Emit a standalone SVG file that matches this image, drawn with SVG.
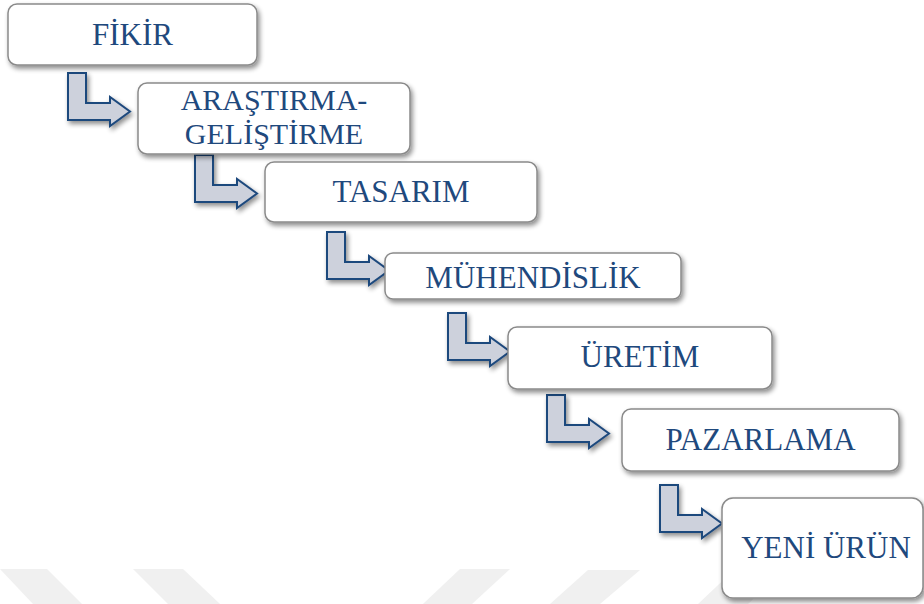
<svg xmlns="http://www.w3.org/2000/svg" width="924" height="604" viewBox="0 0 924 604">
<defs>
<filter id="sh" x="-10%" y="-20%" width="130%" height="150%">
<feGaussianBlur in="SourceAlpha" stdDeviation="2.5"/>
<feOffset dx="1.5" dy="3" result="b"/>
<feComponentTransfer><feFuncA type="linear" slope="0.45"/></feComponentTransfer>
<feMerge><feMergeNode/><feMergeNode in="SourceGraphic"/></feMerge>
</filter>
<path id="arr" d="M0,0 H18 V30 H42 V24 L62,38.5 L42,53 V47 H0 Z"/>
</defs>
<style>
.box{fill:#ffffff;stroke:#8a8a8a;stroke-width:1.5;filter:url(#sh)}
.arrow{fill:#cdd1dc;stroke:#1f497d;stroke-width:2;stroke-linejoin:miter;filter:url(#sh)}
.lbl{font-family:"Liberation Serif","Times New Roman",serif;font-size:31px;fill:#1f497d;text-anchor:middle}
.wm{fill:#f0f0f0}
</style>
<rect width="924" height="604" fill="#ffffff"/>
<g id="watermark">
<polygon class="wm" points="0,569 47,569 82,604 33,604"/>
<polygon class="wm" points="133,569 183,569 220,604 168,604"/>
<polygon class="wm" points="460,569 510,569 472,604 423,604"/>
<polygon class="wm" points="588,570 640,570 600,604 550,604"/>
<polygon class="wm" points="735,569 785,569 748,604 698,604"/>
</g>
<g id="connectors">
<use href="#arr" class="arrow" transform="translate(68,73)"/>
<use href="#arr" class="arrow" transform="translate(195,155)"/>
<use href="#arr" class="arrow" transform="translate(327,232)"/>
<use href="#arr" class="arrow" transform="translate(448,313)"/>
<use href="#arr" class="arrow" transform="translate(547,395)"/>
<use href="#arr" class="arrow" transform="translate(660,485)"/>
</g>
<g id="n1"><rect class="box" x="8" y="4" width="249" height="61" rx="9"/><text class="lbl" x="132.5" y="45">FİKİR</text></g>
<g id="n2"><rect class="box" x="138" y="83" width="272" height="71" rx="9"/><text class="lbl" x="274" y="110" style="font-size:30px">ARAŞTIRMA-</text><text class="lbl" x="274" y="144" style="font-size:30px">GELİŞTİRME</text></g>
<g id="n3"><rect class="box" x="265" y="162" width="272" height="60" rx="9"/><text class="lbl" x="401" y="202">TASARIM</text></g>
<g id="n4"><rect class="box" x="385" y="253" width="296" height="46" rx="8"/><text class="lbl" x="533" y="288">MÜHENDİSLİK</text></g>
<g id="n5"><rect class="box" x="508" y="327" width="264" height="62" rx="9"/><text class="lbl" x="640" y="367">ÜRETİM</text></g>
<g id="n6"><rect class="box" x="622" y="409" width="277" height="62" rx="9"/><text class="lbl" x="760.5" y="450">PAZARLAMA</text></g>
<g id="n7"><rect class="box" x="722" y="498" width="201" height="100" rx="11"/><text class="lbl" x="826" y="558">YENİ ÜRÜN</text></g>
</svg>
